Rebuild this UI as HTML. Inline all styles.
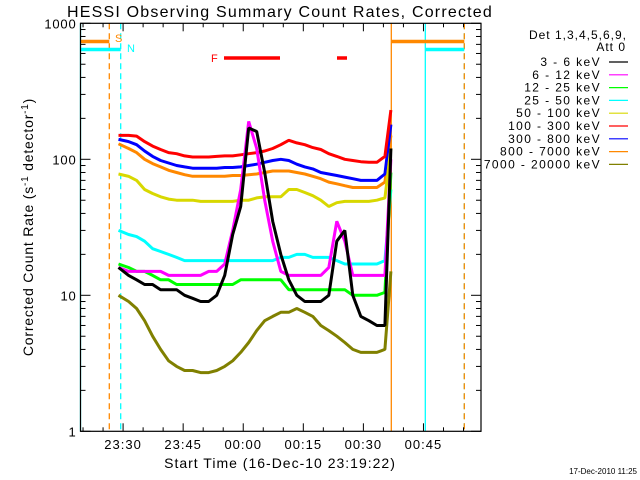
<!DOCTYPE html>
<html><head><meta charset="utf-8"><style>
html,body{margin:0;padding:0;background:#fff;}
svg{display:block;font-family:"Liberation Sans",sans-serif;}
</style></head><body>
<svg id="chart" width="640" height="480" viewBox="0 0 640 480">
<rect width="640" height="480" fill="#fff"/>
<text x="280" y="17" font-size="16" letter-spacing="1.2" text-anchor="middle">HESSI Observing Summary Count Rates, Corrected</text>
<text transform="translate(33,227) rotate(-90)" font-size="14" letter-spacing="0.8" text-anchor="middle">Corrected Count Rate (s<tspan dy="-5" font-size="10">-1</tspan><tspan dy="5"> detector</tspan><tspan dy="-5" font-size="10">-1</tspan><tspan dy="5">)</tspan></text>
<text x="280" y="468" font-size="14" letter-spacing="1" text-anchor="middle">Start Time (16-Dec-10 23:19:22)</text>
<text x="637" y="474" font-size="8" text-anchor="end">17-Dec-2010 11:25</text>
<g id="legend">
<text x="627" y="39" font-size="12" letter-spacing="1" text-anchor="end">Det 1,3,4,5,6,9,</text>
<text x="626" y="51" font-size="12" letter-spacing="1" text-anchor="end">Att 0</text>
</g>
<g id="marks"></g>
<g id="axes"></g>
</svg>
<script>
const times = [9.5,12,14,16,18,20,22,24,26,28,30,32,34,36,38,40,42,44,46,48,50,52,54,56,58,60,62,64,66,68,70,72,74,76,77.5];
const labels = ["3 - 6 keV","6 - 12 keV","12 - 25 keV","25 - 50 keV","50 - 100 keV","100 - 300 keV","300 - 800 keV","800 - 7000 keV","7000 - 20000 keV"];
const colors = ["#000000","#ff00ff","#00ff00","#00ffff","#d8d800","#ff0000","#0000ff","#ff8800","#808000"];
const s3_6 = [16,14,13,12,12,11,11,11,10,9.5,9,9,10,14,28,45,170,160,80,35,20,13,10,9,9,9,10,25,30,10,7,6.5,6,6,120];
const s6_12 = [16,15,15,15,15,15,14,14,14,14,14,15,15,17,30,60,190,120,50,25,15,14,14,14,14,14,16,35,25,14,14,14,14,14,100];
const s12_25 = [17,16,15,15,14,13,13,12,12,12,12,12,12,12,12,13,13,13,13,13,13,11,11,11,11,11,11,11,11,10,10,10,10,10.5,80];
const s25_50 = [30,28,27,25,22,21,20,19,18,18,18,18,18,18,18,18,18,18,18,18,19,19,20,20,19,19,19,18,17,17,17,17,17,18,60];
const s50_100 = [78,75,70,60,56,53,51,50,50,50,49,49,49,49,49,50,50,52,53,53,53,60,60,57,54,50,45,48,49,49,49,49,50,52,120];
const s100_300 = [150,150,148,135,125,118,112,110,106,104,104,104,105,106,106,108,110,112,115,120,128,138,132,128,122,118,110,105,100,98,96,95,95,105,230];
const s300_800 = [140,135,128,115,105,98,94,90,88,86,86,86,86,87,87,88,90,92,95,98,100,98,92,88,85,80,78,76,74,72,70,70,70,78,180];
const s800_7000 = [130,120,112,100,93,88,83,80,77,75,75,75,75,75,76,76,77,78,80,82,82,82,80,78,75,72,68,66,64,62,62,62,62,68,150];
const s7000_20000 = [10,9,8,6.5,5,4,3.3,3,2.8,2.8,2.7,2.7,2.8,3,3.3,3.8,4.5,5.5,6.5,7,7.5,7.5,8,7.5,7,6,5.5,5,4.5,4,3.8,3.8,3.8,4,15];
const series = [s3_6,s6_12,s12_25,s25_50,s50_100,s100_300,s300_800,s800_7000,s7000_20000];
const yTicks = [1,10,100,1000];
const xTickLabels = ["23:30","23:45","00:00","00:15","00:30","00:45"];
const xTickMinutes = [10.633,25.633,40.633,55.633,70.633,85.633];

const NS="http://www.w3.org/2000/svg";
const L=80.5,R=481,T=23.3,B=431.3;
const xs=t=>L+(t/100)*(R-L);
const ys=v=>B-(B-T)*Math.log10(v)/3;
function mk(tag,attrs,parent){const e=document.createElementNS(NS,tag);for(const k in attrs)e.setAttribute(k,attrs[k]);parent.appendChild(e);return e;}
const marks=document.getElementById('marks'), axes=document.getElementById('axes'), leg=document.getElementById('legend');

const vl=[[L,"#00ffff",""],[109.3,"#ff8800","6,4"],[120.7,"#00ffff","6,4"],[391.3,"#ff8800",""],[425.3,"#00ffff",""],[464.3,"#00ffff","6,4"],[464.3,"#ff8800","6,4"]];
vl.forEach(v=>{const e=mk('line',{x1:v[0],x2:v[0],y1:T,y2:B,stroke:v[1],'stroke-width':1.3,'stroke-dasharray':v[2]},marks);

});
const bars=[[L,109.3,41.5,"#ff8800"],[391.3,464.3,41.5,"#ff8800"],[L,120.7,49.5,"#00ffff"],[425.3,464.3,49.5,"#00ffff"],[224,280,58,"#ff0000"],[337,347,58,"#ff0000"]];
bars.forEach(b=>{const e=mk('line',{x1:b[0],x2:b[1],y1:b[2],y2:b[2],stroke:b[3],'stroke-width':3.5},marks);

});
[["S",115,42,"#ff8800"],["N",127,52,"#00ffff"],["F",211,62,"#ff0000"]].forEach(f=>{const e=mk('text',{x:f[1],y:f[2],fill:f[3],'font-size':11},marks);e.textContent=f[0];

});

for(let i=series.length-1;i>=0;i--){
  let d='';series[i].forEach((v,j)=>{d+=(j?'L':'M')+xs(times[j]).toFixed(1)+','+ys(v).toFixed(1);});
  const p=mk('path',{d:d,fill:'none',stroke:colors[i],'stroke-width':3,'stroke-linejoin':'bevel'},marks);
  
  
}
labels.forEach((lb,i)=>{const y=66+i*12.8;
  const t=mk('text',{x:601,y:y,'font-size':12,'letter-spacing':1.4,'text-anchor':'end'},leg);t.textContent=lb;
  
  
  const l=mk('line',{x1:609,x2:628,y1:y-4,y2:y-4,stroke:colors[i],'stroke-width':1.2},leg);
  
  
});

const fr=mk('rect',{x:L,y:T,width:R-L,height:B-T,fill:'none',stroke:'#000','stroke-width':1.2},axes);


yTicks.forEach(v=>{const y=ys(v);
  mk('line',{x1:L,x2:L+10,y1:y,y2:y,stroke:'#000'},axes);mk('line',{x1:R-10,x2:R,y1:y,y2:y,stroke:'#000'},axes);
  const t=mk('text',{x:L-4,y:y+5,'font-size':13,'letter-spacing':0.8,'text-anchor':'end'},axes);t.textContent=v;
  
  
  if(v<1000)for(let k=2;k<10;k++){const yy=ys(v*k);mk('line',{x1:L,x2:L+5,y1:yy,y2:yy,stroke:'#000'},axes);mk('line',{x1:R-5,x2:R,y1:yy,y2:yy,stroke:'#000'},axes);}
});
for(let m=0.633;m<100;m+=5){const x=xs(m);const major=xTickMinutes.some(q=>Math.abs(q-m)<0.01);const len=major?8:4;
  mk('line',{x1:x,x2:x,y1:B-len,y2:B,stroke:'#000'},axes);mk('line',{x1:x,x2:x,y1:T,y2:T+len,stroke:'#000'},axes);}
xTickLabels.forEach((lb,i)=>{const t=mk('text',{x:xs(xTickMinutes[i]),y:449,'font-size':13,'letter-spacing':1,'text-anchor':'middle'},axes);t.textContent=lb;
  
  });
</script>
</body></html>
